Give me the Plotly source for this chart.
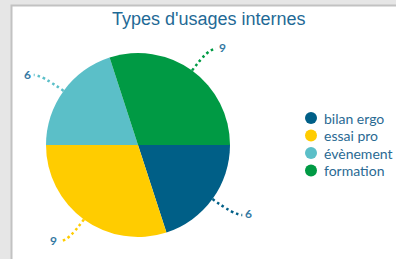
import math
import plotly.graph_objects as go

# ---- data ----
labels = ["bilan ergo", "essai pro", "évènement", "formation"]
values = [6, 9, 6, 9]
colors = ["#005f87", "#ffcc00", "#5bbfc8", "#009a44"]
title_text = "Types d'usages internes"

W, H = 396, 259
CX, CY, R = 138, 145, 92          # pie centre / radius in px
TXT = "#2a6a93"

def px(x):
    return x / W

def py(y):
    return 1 - y / H

fig = go.Figure()
fig.add_trace(go.Pie(
    labels=labels, values=values, sort=False, direction="clockwise",
    rotation=90, marker=dict(colors=colors, line=dict(width=0)),
    textinfo="none", hoverinfo="label+value", showlegend=False,
    domain=dict(x=[px(CX - R), px(CX + R)], y=[py(CY + R), py(CY - R)]),
))

shapes = []
annotations = []
# panel frame
shapes.append(dict(type="rect", xref="paper", yref="paper", layer="below",
                   x0=px(11.5), x1=1.2, y0=-0.2, y1=py(5.5),
                   fillcolor="white", line=dict(color="#c2c2c2", width=2)))

# leader lines + value labels computed from the data angles
total = sum(values)
start = 0.0  # degrees, 3 o'clock, going clockwise
for lab, v, c in zip(labels, values, colors):
    span = 360.0 * v / total
    mid = math.radians(-(start + span / 2))
    start += span
    ux, uy = math.cos(mid), -math.sin(mid)   # screen direction (y down)
    p0 = (CX + R * ux, CY + R * uy)
    p1 = (CX + 119 * ux, CY + 119 * uy)
    sgn = 1 if ux >= 0 else -1
    p2 = (p1[0] + 8 * sgn, p1[1])
    path = "M {} {} Q {} {} {} {}".format(px(p0[0]), py(p0[1]), px(p1[0]), py(p1[1]),
                                            px(p2[0]), py(p2[1]))
    shapes.append(dict(type="path", xref="paper", yref="paper", path=path,
                       line=dict(color=c, width=2.5, dash="2.5px,3px")))
    annotations.append(dict(xref="paper", yref="paper", x=px(p2[0] + 1 * sgn), y=py(p2[1] - 1),
                            text="<b>%d</b>" % v, showarrow=False,
                            xanchor="left" if sgn > 0 else "right", yanchor="middle",
                            font=dict(family="Lato", size=12, color="#3579a3")))

# manual legend with round markers
LX, LY0, LDY = 311, 118, 17.5
for i, (lab, c) in enumerate(zip(labels, colors)):
    y = LY0 + i * LDY
    shapes.append(dict(type="circle", xref="paper", yref="paper",
                       x0=px(LX - 6), x1=px(LX + 6), y0=py(y + 6), y1=py(y - 6),
                       fillcolor=c, line=dict(width=0)))
    annotations.append(dict(xref="paper", yref="paper", x=px(LX + 11), y=py(y),
                            text=lab, showarrow=False, xanchor="left", yanchor="middle",
                            font=dict(family="Lato", size=14, color=TXT)))

annotations.append(dict(xref="paper", yref="paper", x=px(209), y=py(19.5),
                        text=title_text, showarrow=False, xanchor="center", yanchor="middle",
                        font=dict(family="Liberation Sans", size=18, color="#1f6a96")))

fig.update_layout(
    width=W, height=H, margin=dict(l=0, r=0, t=0, b=0),
    paper_bgcolor="#e6e6e6", plot_bgcolor="#e6e6e6",
    shapes=shapes, annotations=annotations, showlegend=False,
)
fig.write_html("out.html", config={"displayModeBar": False},
               post_script="document.body.style.margin='0';")
